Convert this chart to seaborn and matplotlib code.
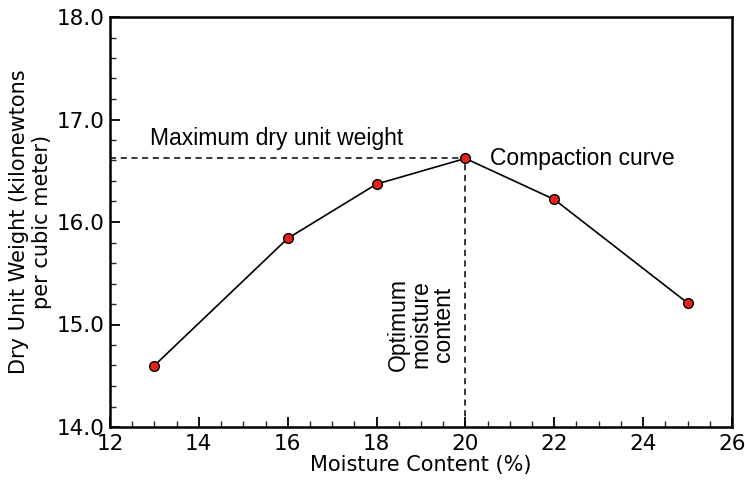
import matplotlib
matplotlib.use("Agg")
import matplotlib.pyplot as plt
from matplotlib.ticker import MultipleLocator
import seaborn as sns
import pandas as pd

moisture = [13, 16, 18, 20, 22, 25]
dry_weight = [14.60, 15.84, 16.37, 16.62, 16.22, 15.21]
x_ticks = [12, 14, 16, 18, 20, 22, 24, 26]
y_ticks = [14.0, 15.0, 16.0, 17.0, 18.0]
y_tick_labels = ["14.0", "15.0", "16.0", "17.0", "18.0"]

sns.set_theme(style="white")
plt.rcParams["font.family"] = ["DejaVu Sans"]
plt.rcParams["text.color"] = "black"
plt.rcParams["axes.labelcolor"] = "black"

df = pd.DataFrame({"moisture": moisture, "dry_weight": dry_weight})

fig = plt.figure(figsize=(7.45, 4.82), dpi=100)
ax = fig.add_axes([110 / 745, 1 - 427 / 482, (732 - 110) / 745, (427 - 17) / 482])

# Peak of the compaction curve
i_max = dry_weight.index(max(dry_weight))
opt_x, max_y = moisture[i_max], dry_weight[i_max]

# Guide lines to the axes
ax.plot([x_ticks[0], opt_x], [max_y, max_y], color="black", lw=1.1, ls=(0, (4, 3)), zorder=2)
ax.plot([opt_x, opt_x], [y_ticks[0], max_y], color="black", lw=1.1, ls=(0, (4, 3)), zorder=2)

sns.lineplot(data=df, x="moisture", y="dry_weight", ax=ax, color="black", lw=1.2,
             marker="o", markersize=7, markerfacecolor="#e8201a",
             markeredgecolor="black", markeredgewidth=1.0, zorder=3)

ax.set_xlim(x_ticks[0], x_ticks[-1])
ax.set_ylim(y_ticks[0], y_ticks[-1])
ax.set_xticks(x_ticks)
ax.set_yticks(y_ticks)
ax.set_yticklabels(y_tick_labels)
ax.xaxis.set_minor_locator(MultipleLocator(0.5))
ax.yaxis.set_minor_locator(MultipleLocator(0.2))
ax.tick_params(axis="both", which="major", direction="in", length=7, width=1.3,
               labelsize=15.5, colors="black", bottom=True, left=True)
ax.tick_params(axis="x", which="major", pad=5)
ax.tick_params(axis="y", which="major", pad=4)
ax.tick_params(axis="both", which="minor", direction="in", length=4, width=1.0,
               bottom=True, left=True)

for sp in ax.spines.values():
    sp.set_visible(True)
    sp.set_color("black")
    sp.set_linewidth(1.8)

ax.set_xlabel("Moisture Content (%)", fontsize=15, labelpad=1)
ax.set_ylabel("Dry Unit Weight (kilonewtons\nper cubic meter)", fontsize=15, labelpad=3)

ann_font = ["Liberation Sans", "DejaVu Sans"]
ax.text(12.9, 16.75, "Maximum dry unit weight", fontsize=16.5, family=ann_font,
        ha="left", va="baseline", color="black")
ax.text(20.55, 16.62, "Compaction curve", fontsize=16.5, family=ann_font,
        ha="left", va="center", color="black")
ax.text(19.0, 15.0, "Optimum\nmoisture\ncontent", fontsize=16.5, family=ann_font,
        rotation=90, ha="center", va="center", multialignment="center",
        linespacing=1.0, color="black")

fig.savefig("out.png", dpi=100, facecolor="white")
